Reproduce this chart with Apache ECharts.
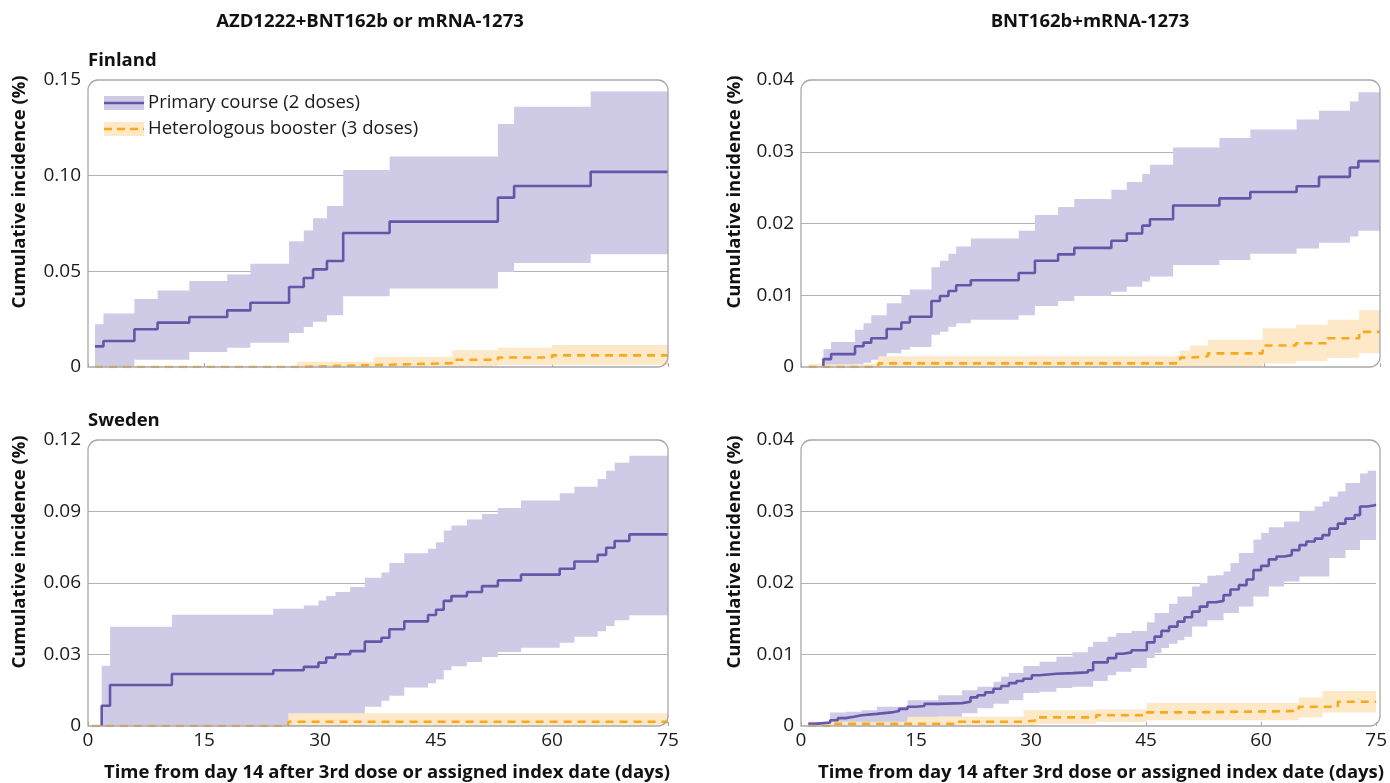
<!DOCTYPE html>
<html lang="en">
<head>
    <meta charset="UTF-8">
    <title>Cumulative incidence</title>
    <script src="https://cdn.jsdelivr.net/npm/echarts@6/dist/echarts.min.js"></script>
    <style>
        body { margin: 0; background: #fff; }
        #chart { width: 1390px; height: 783px; }
    </style>
</head>
<body>
<div id="chart"></div>
<script type="text/javascript">
    // x axis ends at day 75 for every panel
    var END = 75
    var xTicks = [0, 15, 30, 45, 60, 75]

    // Finland, AZD1222+BNT162b or mRNA-1273 : primary course
    var fiAzDays = [0.9, 2, 6, 9, 13.1, 18, 21, 26, 27.9, 29.1, 30.9, 33, 39, 53, 55.1, 65]
    var fiAzEst = [0.0108, 0.0136, 0.0197, 0.0232, 0.0261, 0.0296, 0.0336, 0.0418, 0.0465, 0.051, 0.0554, 0.070, 0.076, 0.0885, 0.0946, 0.102]
    var fiAzLow = [0, 0, 0.0038, 0.0038, 0.0078, 0.0101, 0.0127, 0.0178, 0.0209, 0.0237, 0.027, 0.037, 0.041, 0.0497, 0.0544, 0.0589]
    var fiAzHigh = [0.0223, 0.028, 0.0355, 0.040, 0.045, 0.0484, 0.054, 0.0657, 0.0714, 0.0777, 0.0841, 0.103, 0.110, 0.127, 0.136, 0.144]
    // Finland, AZD : heterologous booster
    var fiAzBDays = [0.9, 27, 37, 47.1, 53, 60]
    var fiAzBEst = [0, 0.001, 0.002, 0.0038, 0.005, 0.0061]
    var fiAzBLow = [0, 0, 0, 0, 0.001, 0.0012]
    var fiAzBHigh = [0.0003, 0.0028, 0.0052, 0.0087, 0.0101, 0.0115]

    // Finland, BNT162b+mRNA-1273 : primary course
    var fiBnDays = [2.9, 2.9, 3.9, 7.0, 8.1, 9.1, 11.1, 13.0, 14.1, 16.9, 18.0, 19.1, 20.1, 22.0, 28.2, 30.3, 33.3, 35.4, 40.2, 42.2, 44.2, 45.2, 48.2, 54.2, 58.2, 64.2, 67.1, 71.1, 72.2]
    var fiBnEst = [0, 0.0011, 0.0018, 0.0029, 0.0034, 0.004, 0.0053, 0.0062, 0.007, 0.0092, 0.0099, 0.0106, 0.0114, 0.0121, 0.0131, 0.0148, 0.0157, 0.0166, 0.0176, 0.0186, 0.0197, 0.0206, 0.0225, 0.0235, 0.0244, 0.0252, 0.0265, 0.0278, 0.0287]
    var fiBnLow = [0, 0, 0, 0.0004, 0.0006, 0.0010, 0.0019, 0.0024, 0.0028, 0.0045, 0.0049, 0.0056, 0.0061, 0.0066, 0.0072, 0.0085, 0.0092, 0.0099, 0.0105, 0.0112, 0.0119, 0.0126, 0.0142, 0.0149, 0.0158, 0.0165, 0.0173, 0.0182, 0.019]
    var fiBnHigh = [0, 0.0025, 0.0035, 0.0052, 0.0061, 0.0072, 0.0089, 0.01, 0.0108, 0.0139, 0.0148, 0.0158, 0.0168, 0.0179, 0.019, 0.0212, 0.0223, 0.0234, 0.0247, 0.0258, 0.0269, 0.0282, 0.0306, 0.0319, 0.0331, 0.0345, 0.0357, 0.037, 0.0383]
    // Finland, BNT : heterologous booster
    var fiBnBDays = [1.0, 10.0, 49.1, 50.4, 52.7, 59.8, 64.1, 68.2, 72.3]
    var fiBnBEst = [0, 0.0005, 0.0013, 0.0015, 0.0019, 0.003, 0.0033, 0.004, 0.0049]
    var fiBnBLow = [0, 0, 0, 0, 0, 0.0005, 0.0008, 0.0013, 0.0019]
    var fiBnBHigh = [0.0004, 0.0015, 0.0023, 0.003, 0.0038, 0.0054, 0.0059, 0.0066, 0.0079]

    // Sweden, AZD : primary course
    var seAzDays = [1.77, 1.77, 2.85, 10.85, 23.96, 27.9, 29.8, 30.8, 32.0, 33.9, 35.8, 37.95, 38.97, 40.9, 43.97, 45.0, 46.0, 47.0, 49.0, 50.95, 53.0, 56.0, 61.0, 62.9, 65.9, 67.0, 68.1, 70.0]
    var seAzEst = [0, 0.0085, 0.0172, 0.0218, 0.0234, 0.0248, 0.0266, 0.0287, 0.0301, 0.0314, 0.0354, 0.037, 0.0406, 0.0439, 0.0466, 0.0488, 0.0525, 0.0545, 0.0562, 0.0587, 0.0611, 0.0635, 0.066, 0.069, 0.0718, 0.0748, 0.0776, 0.0804]
    var seAzLow = [0, 0, 0, 0, 0, 0, 0, 0, 0, 0, 0.0081, 0.0106, 0.0127, 0.0162, 0.0179, 0.0195, 0.0234, 0.0251, 0.0269, 0.029, 0.0311, 0.0328, 0.0349, 0.0374, 0.0398, 0.042, 0.0444, 0.0465]
    var seAzHigh = [0, 0.0253, 0.0416, 0.0467, 0.0492, 0.0506, 0.0527, 0.0545, 0.0562, 0.0583, 0.0622, 0.0644, 0.0684, 0.0725, 0.0744, 0.0771, 0.082, 0.0841, 0.0866, 0.089, 0.0915, 0.0946, 0.0977, 0.1004, 0.1036, 0.1071, 0.1105, 0.1134]
    // Sweden, AZD : heterologous booster
    var seAzBDays = [0.5, 25.9]
    var seAzBEst = [0, 0.0018]
    var seAzBLow = [0, 0.0003]
    var seAzBHigh = [0.0002, 0.0053]

    // Sweden, BNT : primary course
    var seBnDays = [0.95, 1.9, 3.8, 4.8, 5.8, 6.9, 7.9, 9.9, 11.8, 12.8,
        13.9, 15.0, 16.1, 17.9, 21.0, 22.1, 23.0, 24.0, 25.1, 26.1,
        27.1, 28.1, 29.0, 30.1, 31.1, 33.3, 35.4, 37.4, 38.1, 40.0,
        41.1, 42.0, 43.1, 45.1, 46.1, 47.0, 48.0, 49.1, 50.0, 51.0,
        52.0, 53.0, 54.1, 55.1, 56.0, 57.1, 58.1, 59.0, 60.0, 61.0,
        62.0, 63.0, 64.0, 65.0, 65.9, 67.0, 68.0, 68.9, 70.0, 71.0,
        72.2, 72.9, 73.9]
    var seBnEst = [0.0003, 0.0005, 0.0008, 0.0011, 0.0013, 0.0015, 0.0017, 0.0019, 0.0021, 0.0024,
        0.0027, 0.0028, 0.0031, 0.0032, 0.0034, 0.004, 0.0043, 0.0047, 0.0052, 0.0056,
        0.006, 0.0063, 0.0066, 0.0071, 0.0073, 0.0074, 0.0075, 0.0078, 0.0089, 0.0095,
        0.0101, 0.0103, 0.0106, 0.0117, 0.0125, 0.0133, 0.0139, 0.0146, 0.0152, 0.016,
        0.0167, 0.0173, 0.0175, 0.0183, 0.0191, 0.0197, 0.0205, 0.0218, 0.0224, 0.0233,
        0.0237, 0.0239, 0.0246, 0.0253, 0.0258, 0.0262, 0.0267, 0.0276, 0.0283, 0.029,
        0.0295, 0.0307, 0.0309]
    var seBnLow = [0, 0, 0, 0, 0, 0, 0.0004, 0.0004, 0.0004, 0.0004,
        0.0008, 0.0008, 0.0008, 0.0013, 0.0018, 0.0018, 0.0025, 0.0025, 0.0031, 0.0031,
        0.0036, 0.0036, 0.0046, 0.0046, 0.0048, 0.0053, 0.0055, 0.0055, 0.0063, 0.0071,
        0.0076, 0.0076, 0.0081, 0.0095, 0.0102, 0.0109, 0.0115, 0.012, 0.0125, 0.0139,
        0.0139, 0.0148, 0.0148, 0.0158, 0.0158, 0.0167, 0.0167, 0.0181, 0.0181, 0.0195,
        0.0195, 0.0202, 0.0202, 0.0209, 0.0209, 0.0209, 0.0209, 0.0235, 0.0235, 0.0246,
        0.0246, 0.026, 0.026]
    var seBnHigh = [0.0006, 0.0006, 0.0019, 0.0019, 0.002, 0.002, 0.0022, 0.0027, 0.0027, 0.0027,
        0.0036, 0.0036, 0.0036, 0.0043, 0.005, 0.005, 0.0055, 0.0055, 0.0062, 0.0069,
        0.0074, 0.0074, 0.0084, 0.0084, 0.009, 0.0097, 0.0103, 0.0111, 0.0118, 0.0125,
        0.013, 0.013, 0.0133, 0.0145, 0.0158, 0.0158, 0.0171, 0.0181, 0.0181, 0.0195,
        0.02, 0.021, 0.0211, 0.0216, 0.0228, 0.0242, 0.0242, 0.0261, 0.027, 0.0278,
        0.0278, 0.0286, 0.0286, 0.03, 0.0301, 0.0307, 0.0314, 0.0321, 0.0328, 0.034,
        0.034, 0.0353, 0.0357]
    // Sweden, BNT : heterologous booster
    var seBnBDays = [0.95, 3.9, 13.9, 20.4, 29.0, 31.0, 38.5, 45.1, 51.0, 64.9, 68.0, 70.0]
    var seBnBEst = [0, 0.0003, 0.0003, 0.0006, 0.0008, 0.0012, 0.0015, 0.0019, 0.0021, 0.0027, 0.0027, 0.0034]
    var seBnBLow = [0, 0, 0, 0, 0.0001, 0.0003, 0.0006, 0.0008, 0.0008, 0.0012, 0.0019, 0.0019]
    var seBnBHigh = [0.0002, 0.0006, 0.0013, 0.0013, 0.0022, 0.0022, 0.0023, 0.0032, 0.0032, 0.004, 0.0049, 0.0049]

    var purple = '#6656a8'
    var purpleBand = '#cfcae6'
    var orange = '#f9a81b'
    var orangeBand = '#fde8c8'
    var font = 'Open Sans'

    // panel boxes (px)
    var grids = [
        {left: 88, top: 80, width: 580, height: 287},
        {left: 801, top: 80, width: 579, height: 287},
        {left: 88, top: 440, width: 580, height: 286},
        {left: 801, top: 440, width: 579, height: 286}
    ]
    var yMax = [0.15, 0.04, 0.12, 0.04]
    var yStep = [0.05, 0.01, 0.03, 0.01]

    var chart = echarts.init(document.getElementById('chart'))

    // step line data, last value held to day 75
    function stepData(days, est) {
        var d = []
        for (var k = 0; k < days.length; k++) d.push([days[k], est[k]])
        d.push([END, est[est.length - 1]])
        return d
    }

    // confidence band as one stepped polygon, placed through the axes
    function band(gi, days, low, high, color) {
        return {
            type: 'custom', xAxisIndex: gi, yAxisIndex: gi, silent: true, z: 1,
            data: [[days[0], low[0]]],
            renderItem: function (params, api) {
                var pts = []
                var k, x1
                for (k = 0; k < days.length; k++) {
                    x1 = k + 1 < days.length ? days[k + 1] : END
                    pts.push(api.coord([days[k], high[k]]), api.coord([x1, high[k]]))
                }
                for (k = days.length - 1; k >= 0; k--) {
                    x1 = k + 1 < days.length ? days[k + 1] : END
                    pts.push(api.coord([x1, low[k]]), api.coord([days[k], low[k]]))
                }
                return {type: 'polygon', shape: {points: pts}, style: {fill: color}}
            }
        }
    }

    function line(gi, days, est, color, dashed) {
        return {
            type: 'line', xAxisIndex: gi, yAxisIndex: gi, step: 'end',
            symbol: 'none', silent: true, z: 3,
            data: stepData(days, est),
            lineStyle: {color: color, width: 2.6, type: dashed ? [8, 6] : 'solid'}
        }
    }

    var panels = [
        [fiAzDays, fiAzEst, fiAzLow, fiAzHigh, fiAzBDays, fiAzBEst, fiAzBLow, fiAzBHigh],
        [fiBnDays, fiBnEst, fiBnLow, fiBnHigh, fiBnBDays, fiBnBEst, fiBnBLow, fiBnBHigh],
        [seAzDays, seAzEst, seAzLow, seAzHigh, seAzBDays, seAzBEst, seAzBLow, seAzBHigh],
        [seBnDays, seBnEst, seBnLow, seBnHigh, seBnBDays, seBnBEst, seBnBLow, seBnBHigh]
    ]

    var series = []
    var xAxes = []
    var yAxes = []
    var graphics = []
    panels.forEach(function (p, gi) {
        series.push(band(gi, p[0], p[2], p[3], purpleBand))
        series.push(band(gi, p[4], p[6], p[7], orangeBand))
        series.push(line(gi, p[0], p[1], purple, false))
        series.push(line(gi, p[4], p[5], orange, true))

        xAxes.push({
            type: 'value', gridIndex: gi, min: 0, max: END, interval: 15,
            axisLine: {show: false},
            axisTick: {show: true, inside: true, length: 4, lineStyle: {color: '#a8a8a8'}},
            axisLabel: {show: gi >= 2, fontSize: 19, color: '#1a1a1a', fontFamily: font, margin: 5},
            splitLine: {show: false}
        })
        yAxes.push({
            type: 'value', gridIndex: gi, min: 0, max: yMax[gi], interval: yStep[gi],
            axisLine: {show: false},
            axisTick: {show: false},
            axisLabel: {
                fontSize: 19, color: '#1a1a1a', fontFamily: font, margin: 7,
                formatter: function (v) { return v === 0 ? '0' : v.toFixed(2) }
            },
            splitLine: {show: true, showMinLine: false, showMaxLine: false, lineStyle: {color: '#b4b4b4', width: 1.2}}
        })

        var g = grids[gi]
        graphics.push({
            type: 'rect', z: 100, silent: true,
            shape: {x: g.left, y: g.top, width: g.width, height: g.height, r: [10, 10, 10, 0]},
            style: {fill: 'none', stroke: '#a8a8a8', lineWidth: 1.3}
        })
    })

    var titleStyle = {fontFamily: font, fontWeight: 'bold', fontSize: 18.5, fill: '#111'}
    function text(x, y, str, align, rot) {
        return {
            type: 'text', x: x, y: y, rotation: rot || 0, silent: true,
            style: Object.assign({text: str, align: align || 'center', verticalAlign: 'middle'}, titleStyle)
        }
    }

    graphics.push(text(370, 22, 'AZD1222+BNT162b or mRNA-1273'))
    graphics.push(text(1090, 22, 'BNT162b+mRNA-1273'))
    graphics.push(text(88, 61, 'Finland', 'left'))
    graphics.push(text(88, 421, 'Sweden', 'left'))
    graphics.push(text(20, 192, 'Cumulative incidence (%)', 'center', Math.PI / 2))
    graphics.push(text(20, 552, 'Cumulative incidence (%)', 'center', Math.PI / 2))
    graphics.push(text(735, 192, 'Cumulative incidence (%)', 'center', Math.PI / 2))
    graphics.push(text(735, 552, 'Cumulative incidence (%)', 'center', Math.PI / 2))
    graphics.push(text(387, 773, 'Time from day 14 after 3rd dose or assigned index date (days)'))
    graphics.push(text(1101, 773, 'Time from day 14 after 3rd dose or assigned index date (days)'))

    // legend inside the Finland panel
    var legendItems = [
        {y: 103, name: 'Primary course (2 doses)', band: purpleBand, color: purple, dash: null},
        {y: 129, name: 'Heterologous booster (3 doses)', band: orangeBand, color: orange, dash: [8, 5]}
    ]
    legendItems.forEach(function (it) {
        graphics.push({type: 'rect', z: 50, silent: true, shape: {x: 104, y: it.y - 7, width: 40, height: 14}, style: {fill: it.band}})
        graphics.push({type: 'line', z: 51, silent: true, shape: {x1: 104, y1: it.y, x2: 144, y2: it.y}, style: {stroke: it.color, lineWidth: 2.6, lineDash: it.dash}})
        graphics.push({
            type: 'text', z: 51, x: 148, y: it.y, silent: true,
            style: {text: it.name, fontFamily: font, fontSize: 18.5, fill: '#1a1a1a', verticalAlign: 'middle'}
        })
    })

    chart.setOption({
        animation: false,
        backgroundColor: '#fff',
        grid: grids,
        xAxis: xAxes,
        yAxis: yAxes,
        series: series,
        graphic: graphics
    })
</script>
</body>
</html>
